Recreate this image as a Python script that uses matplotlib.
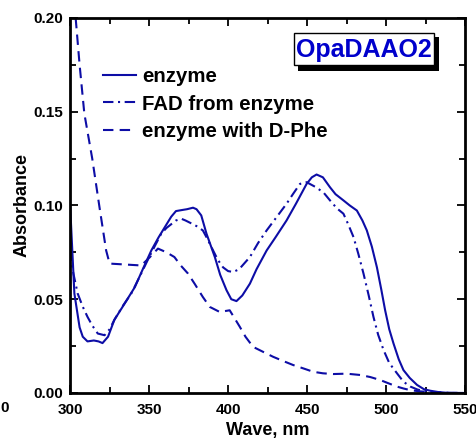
import matplotlib
matplotlib.use("Agg")
import matplotlib.pyplot as plt
from matplotlib.ticker import MultipleLocator
from matplotlib.patches import Rectangle

plt.rcParams['font.family'] = ['Liberation Sans', 'DejaVu Sans']
plt.rcParams['font.weight'] = 'bold'

# enzyme (solid)
enz_x = [300, 302.7, 306, 308, 311, 315, 318, 320.5, 324, 328, 334, 341, 346, 351.4, 356, 360, 364, 367, 370.4,
         374, 377.8, 380, 383, 386.3, 391.6, 395, 399, 402, 405.3, 409, 413.8, 418, 424.4, 430, 437, 443, 449.7,
         453, 456, 460, 464.5, 468, 473, 477, 481.5, 485, 487.8, 491, 494.2, 497, 499.4, 502, 504.7, 508, 511,
         515, 519.6, 524, 528, 533, 540, 550]
enz_y = [0.100, 0.053, 0.035, 0.030, 0.0275, 0.028, 0.0275, 0.0266, 0.030, 0.039, 0.047, 0.0565, 0.066, 0.076,
         0.083, 0.0885, 0.094, 0.097, 0.0975, 0.098, 0.0988, 0.098, 0.0947, 0.085, 0.0725, 0.063, 0.0548, 0.050,
         0.049, 0.052, 0.0583, 0.066, 0.076, 0.083, 0.092, 0.101, 0.1115, 0.115, 0.1165, 0.115, 0.1097, 0.106,
         0.1027, 0.100, 0.0973, 0.092, 0.0867, 0.078, 0.067, 0.055, 0.0441, 0.034, 0.0264, 0.018, 0.0122, 0.008,
         0.0043, 0.002, 0.0012, 0.0005, 0.0, 0.0]

# FAD from enzyme (dash-dot)
fad_x = [300, 302, 304.8, 308, 311, 314, 317.5, 321.8, 325, 328, 333, 338.7, 344, 349, 354, 357.7, 361, 364,
         367, 370.4, 373, 376.8, 380, 384, 387, 390.5, 393.5, 396.8, 400, 403.2, 407, 413.8, 419, 424.4, 430, 437,
         441, 445.5, 449.7, 455, 460.3, 464.5, 468.8, 473, 476, 479.4, 482.5, 485.7, 489, 492, 495, 498.4, 502,
         506.9, 511, 515.4, 520, 526, 532, 540, 550]
fad_y = [0.076, 0.064, 0.053, 0.046, 0.0406, 0.036, 0.0317, 0.0308, 0.034, 0.039, 0.046, 0.053, 0.062, 0.0707,
         0.079, 0.085, 0.088, 0.090, 0.092, 0.0929, 0.092, 0.0904, 0.089, 0.0867, 0.082, 0.076, 0.071, 0.067,
         0.065, 0.0645, 0.066, 0.0725, 0.080, 0.0867, 0.093, 0.1009, 0.106, 0.1115, 0.1124, 0.110, 0.107, 0.1027,
         0.0985, 0.0956, 0.090, 0.0831, 0.074, 0.0637, 0.052, 0.0406, 0.031, 0.0229, 0.016, 0.0105, 0.006, 0.0034,
         0.0018, 0.0008, 0.0003, 0.0, 0.0]

# enzyme with D-Phe (dashed)
phe_x = [303.5, 306, 309, 314, 318.6, 322.8, 325, 335, 345, 350, 355.6, 361, 366, 370, 374.6, 379, 384, 388.4,
         394.7, 401, 404, 407.4, 411, 415.8, 422, 428.5, 435, 441.2, 448, 453.9, 460, 466.6, 475, 483.6, 490,
         496.3, 502, 506.9, 511, 515.4, 521, 528, 535, 550]
phe_y = [0.200, 0.175, 0.149, 0.125, 0.099, 0.076, 0.069, 0.0685, 0.068, 0.072, 0.077, 0.075, 0.0725, 0.068,
         0.0637, 0.058, 0.0512, 0.0459, 0.0432, 0.0441, 0.040, 0.0353, 0.030, 0.0246, 0.022, 0.0193, 0.017,
         0.0149, 0.013, 0.0113, 0.0105, 0.0101, 0.0103, 0.0096, 0.0085, 0.0069, 0.005, 0.0034, 0.0024, 0.0015,
         0.0009, 0.0005, 0.0002, 0.0]

labels = ['enzyme', 'FAD from enzyme', 'enzyme with D-Phe']
x_ticks = [300, 350, 400, 450, 500, 550]
y_ticks = [0.00, 0.05, 0.10, 0.15, 0.20]

col = '#0d0da6'

fig = plt.figure(figsize=(4.77, 4.48), dpi=100)
ax = fig.add_axes([0.147, 0.1228, 0.828, 0.8372])

lw = 1.5
ax.plot(enz_x, enz_y, color=col, lw=lw, label=labels[0])
ax.plot(fad_x, fad_y, color=col, lw=lw, dashes=(5, 2.2, 1, 2.2), label=labels[1])
ax.plot(phe_x, phe_y, color=col, lw=lw, dashes=(5, 3), label=labels[2])

ax.set_xlim(300, 550)
ax.set_ylim(0, 0.20)
ax.set_xticks(x_ticks)
ax.set_yticks(y_ticks)
ax.set_xticklabels([str(v) for v in x_ticks])
ax.set_yticklabels([f'{v:.2f}' for v in y_ticks])
ax.xaxis.set_minor_locator(MultipleLocator(25))
ax.yaxis.set_minor_locator(MultipleLocator(0.025))
ax.tick_params(which='both', direction='in', top=True, right=True, labelsize=11, pad=5)
ax.tick_params(axis='x', which='both', pad=7)
ax.tick_params(which='major', length=6, width=1.3)
ax.tick_params(which='minor', length=4, width=1.3)
for lab in ax.get_xticklabels() + ax.get_yticklabels():
    lab.set_fontweight('bold')
for s in ax.spines.values():
    s.set_linewidth(2)

ax.set_xlabel('Wave, nm', fontsize=13, fontweight='bold', labelpad=4)
ax.set_ylabel('Absorbance', fontsize=13, fontweight='bold', labelpad=2)

leg = ax.legend(loc='upper left', bbox_to_anchor=(0.082, 0.868), frameon=False, fontsize=14.7,
                handlelength=1.63, handletextpad=0.3, labelspacing=0.4, borderaxespad=0, borderpad=0)
for t in leg.get_texts():
    t.set_fontweight('bold')

# OpaDAAO2 label box with shadow
ax.add_patch(Rectangle((0.578, 0.8595), 0.356, 0.09, transform=ax.transAxes, facecolor='black',
                       edgecolor='black', lw=0, zorder=4))
ax.add_patch(Rectangle((0.566, 0.875), 0.355, 0.085, transform=ax.transAxes, facecolor='white',
                       edgecolor='black', lw=1, zorder=5))
ax.text(0.745, 0.914, 'OpaDAAO2', transform=ax.transAxes, ha='center', va='center', fontsize=18,
        fontweight='bold', color='#0000cc', zorder=6)

fig.text(0.0, 0.09, '0', fontsize=11, fontweight='bold', ha='left', va='center')

fig.savefig('out.png', dpi=100)
